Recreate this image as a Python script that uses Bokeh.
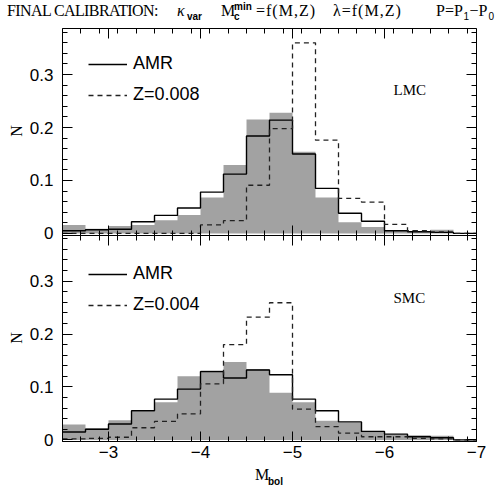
from bokeh.plotting import figure
from bokeh.layouts import column, row
from bokeh.models import (Range1d, LinearAxis, FixedTicker, CustomJSTickFormatter,
                          Legend, LegendItem, Label, Div, ColumnDataSource)
from bokeh.transform import dodge
from bokeh.embed import file_html
from bokeh.resources import INLINE

# ---------------- data ----------------
bin_edges = [-2.5, -2.75, -3.0, -3.25, -3.5, -3.75, -4.0, -4.25, -4.5, -4.75,
             -5.0, -5.25, -5.5, -5.75, -6.0, -6.25, -6.5, -6.75, -7.0]

lmc_obs = [0.016, 0.009, 0.014, 0.016, 0.025, 0.035, 0.068, 0.129, 0.215, 0.228,
           0.154, 0.068, 0.021, 0.012, 0.006, 0.004, 0.007, 0.0]
lmc_amr = [0.005, 0.007, 0.008, 0.022, 0.034, 0.048, 0.078, 0.112, 0.184, 0.214,
           0.150, 0.085, 0.038, 0.023, 0.005, 0.003, 0.002, 0.0]
lmc_z = [0.0, 0.0, 0.0, 0.0, 0.0, 0.0, 0.016, 0.024, 0.091, 0.198,
         0.360, 0.176, 0.066, 0.059, 0.017, 0.005, 0.003, 0.0]

smc_obs = [0.029, 0.022, 0.037, 0.054, 0.071, 0.120, 0.131, 0.147, 0.134, 0.089,
           0.071, 0.036, 0.033, 0.014, 0.010, 0.009, 0.008, 0.0]
smc_amr = [0.015, 0.020, 0.030, 0.055, 0.077, 0.096, 0.129, 0.117, 0.132, 0.123,
           0.077, 0.055, 0.034, 0.016, 0.011, 0.006, 0.004, 0.0]
smc_z = [0.002, 0.003, 0.005, 0.023, 0.035, 0.049, 0.106, 0.180, 0.232, 0.259,
         0.058, 0.025, 0.013, 0.006, 0.006, 0.003, 0.002, 0.0]

legend_labels_lmc = ["AMR", "Z=0.008"]
legend_labels_smc = ["AMR", "Z=0.004"]
cloud_names = ["LMC", "SMC"]
x_major_ticks = [-3, -4, -5, -6, -7]
y_major_ticks = [0.0, 0.1, 0.2, 0.3]

# ---------------- style / geometry ----------------
SANS = "Liberation Sans"
SERIF = "Liberation Serif"
GRAY = "#a2a2a2"
OFF = 0.39            # vertical offset of the upper (LMC) panel
YLO, YHI = -0.003, 0.387
BOUND = YHI           # border between the two panels
X_RANGE = (-2.5, -7.0)
NW = 26               # width of the column holding the rotated "N" labels

p = figure(width=495 - NW, height=443, x_range=Range1d(*X_RANGE),
           y_range=Range1d(YLO, YHI + OFF),
           output_backend="svg", toolbar_location=None,
           x_axis_location=None, y_axis_location=None,
           min_border_left=62 - NW, min_border_right=19, min_border_top=6,
           min_border_bottom=24)
p.grid.visible = False
p.outline_line_color = "black"
p.outline_line_width = 1

# ticks
x_minor = [-2.5 - 0.2 * i for i in range(1, 23)]
y_major = y_major_ticks + [t + OFF for t in y_major_ticks]
y_minor = [0.02 * i for i in range(0, 20)] + [0.02 * i + OFF for i in range(0, 20)]
xticker = FixedTicker(ticks=x_major_ticks, minor_ticks=x_minor)
yticker = FixedTicker(ticks=y_major, minor_ticks=y_minor)

empty_fmt = CustomJSTickFormatter(code="return '';")
x_fmt = CustomJSTickFormatter(code="return (tick < 0 ? '\\u2212' : '') + Math.abs(tick).toFixed(0);")
y_fmt = CustomJSTickFormatter(code=(
    "var v = tick > %f ? tick - %f : tick;"
    "return Math.abs(v) < 1e-6 ? '0' : v.toFixed(1);") % (BOUND - 0.001, OFF))


def mk_axis(ticker, fmt, labels, tin=10, tout=0, fixed=None):
    ax = LinearAxis(ticker=ticker, formatter=fmt, major_tick_in=tin, major_tick_out=tout,
                    minor_tick_in=tin // 2, minor_tick_out=tout // 2,
                    axis_line_color="black", major_tick_line_color="black",
                    minor_tick_line_color="black")
    if fixed is not None:
        ax.fixed_location = fixed
    if labels:
        ax.major_label_text_font = SANS
        ax.major_label_text_font_size = "17px"
        ax.major_label_text_color = "black"
    else:
        ax.major_label_text_font_size = "0px"
        ax.major_label_standoff = 0
    return ax


ax_left = mk_axis(yticker, y_fmt, True)
ax_left.major_label_standoff = 9
p.add_layout(ax_left, "left")
ax_bottom = mk_axis(xticker, x_fmt, True)
ax_bottom.major_label_standoff = 4
p.add_layout(ax_bottom, "below")
p.add_layout(mk_axis(yticker, empty_fmt, False, fixed=X_RANGE[1]), "right")
p.add_layout(mk_axis(xticker, empty_fmt, False, fixed=YHI + OFF), "above")
p.add_layout(mk_axis(xticker, empty_fmt, False, tin=10, tout=10, fixed=BOUND), "below")


def draw_panel(obs, amr, zv, leg_labels, cloud, shift, leg_y, cloud_y):
    src = ColumnDataSource(dict(x=bin_edges, zero=[0.0] * len(bin_edges),
                                obs=obs + [obs[-1]], amr=amr + [amr[-1]], z=zv + [zv[-1]]))
    p.varea_step(x="x", y1=dodge("zero", shift), y2=dodge("obs", shift),
                 step_mode="after", fill_color=GRAY, source=src)
    r1 = p.step(x="x", y=dodge("amr", shift), mode="after", line_color="black",
                line_width=1.4, source=src)
    r2 = p.step(x="x", y=dodge("z", shift), mode="after", line_color="#222222",
                line_width=1.3, line_dash="5 4", source=src)
    leg = Legend(items=[LegendItem(label=leg_labels[0], renderers=[r1]),
                        LegendItem(label=leg_labels[1], renderers=[r2])],
                 location=(26, leg_y), orientation="vertical",
                 padding=0, margin=0, spacing=10, glyph_width=39, glyph_height=20,
                 label_height=20, label_standoff=6, label_text_font=SANS,
                 label_text_font_size="18px", label_text_color="black",
                 border_line_alpha=0, background_fill_alpha=0)
    p.add_layout(leg)
    p.add_layout(Label(x=331, y=cloud_y, x_units="screen", y_units="screen", text=cloud,
                       text_font=SERIF, text_font_size="15px", text_color="black",
                       text_baseline="alphabetic"))


draw_panel(lmc_obs, lmc_amr, lmc_z, legend_labels_lmc, cloud_names[0], OFF, 336, 352)
draw_panel(smc_obs, smc_amr, smc_z, legend_labels_smc, cloud_names[1], 0.0, 126, 144)


# ---------------- texts outside the plot frame, as HTML ----------------
def span(txt, left, top, size, fam, style="normal", weight="normal", extra=""):
    return ('<span style="position:absolute;left:%.1fpx;top:%.1fpx;font-size:%.1fpx;'
            'line-height:1;font-family:\'%s\';font-style:%s;font-weight:%s;'
            'white-space:nowrap;color:black;%s">%s</span>'
            % (left, top, size, fam, style, weight, extra, txt))


SER_T = 3.4   # top for 16px serif, baseline ~17
TS = 16
title_html = ('<div style="position:relative;width:495px;height:22px;overflow:visible">'
              + span("FINAL CALIBRATION:", 7, SER_T, TS, SERIF, extra="letter-spacing:-0.6px;")
              + span("\u03ba", 177, SER_T, TS, SERIF, style="italic")
              + span("var", 187, 11.5, 10, SANS, weight="bold")
              + span("M", 221, SER_T, TS, SERIF)
              + span("min", 234, 1.5, 10, SANS, weight="bold")
              + span("c", 234, 11.5, 10, SANS, weight="bold")
              + span("=f(M,Z)", 256, SER_T, TS, SERIF, extra="letter-spacing:1px;")
              + span("\u03bb=f(M,Z)", 333, SER_T, TS, SERIF, extra="letter-spacing:1px;")
              + span("P=P", 436, SER_T, TS, SERIF)
              + span("1", 463.5, 11.5, 10, SANS)
              + span("\u2212P", 469.5, SER_T, TS, SERIF)
              + span("0", 488.5, 11.5, 10, SANS)
              + '</div>')
title = Div(text=title_html, width=495, height=22, margin=(0, 0, 0, 0))

# rotated "N" labels, centred on each panel (page y 131 and 338, figure starts at 22)
ROT = "transform:rotate(-90deg);transform-origin:50% 50%;"
n_html = ('<div style="position:relative;width:%dpx;height:443px;overflow:visible">' % NW
          + span("N", 11.2, 131 - 22 - 8, 16, SERIF, extra=ROT)
          + span("N", 11.2, 338 - 22 - 8, 16, SERIF, extra=ROT)
          + '</div>')
n_div = Div(text=n_html, width=NW, height=443, margin=(0, 0, 0, 0))

xlab_html = ('<div style="position:relative;width:495px;height:21px;overflow:visible">'
             + span("M", 255, 1.6, 16, SERIF)
             + span("bol", 268, 11.5, 10, SANS, weight="bold")
             + '</div>')
xlab = Div(text=xlab_html, width=495, height=21, margin=(0, 0, 0, 0))

layout = column(title, row(n_div, p, spacing=0), xlab, spacing=0)
open("out.html", "w").write(file_html(layout, INLINE))
